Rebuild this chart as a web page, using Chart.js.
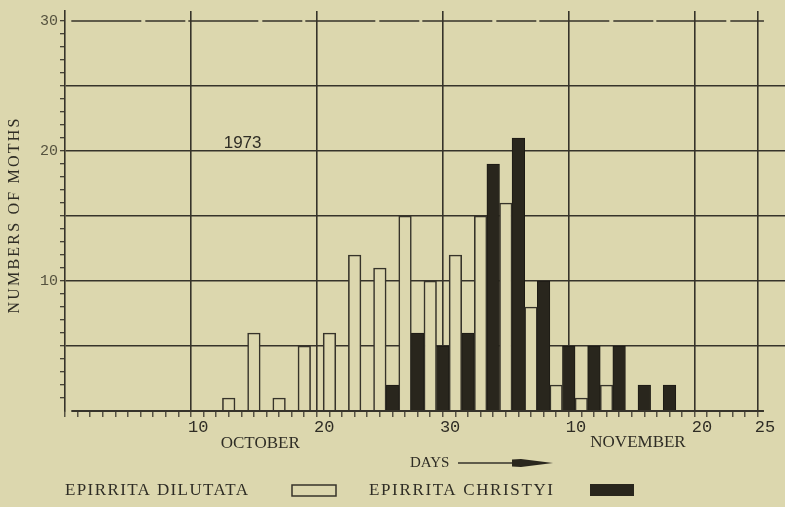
<!DOCTYPE html>
<html>
<head>
<meta charset="utf-8">
<script src="https://cdn.jsdelivr.net/npm/chart.js@4.4.1/dist/chart.umd.min.js"></script>
<style>
  html, body { margin: 0; padding: 0; background: #dcd7ae; }
  #wrap { width: 785px; height: 507px; position: relative; background: #dcd7ae; }
</style>
</head>
<body>
<div id="wrap"><canvas id="c"></canvas></div>
<script>
// ---- data (day index: day 1 = 1 October; each bar covers one day) ----
const dilutataDays   = [12, 14, 16, 18, 20, 22, 24, 26, 28, 30, 32, 34, 36, 38, 40, 42];
const dilutataCounts = [ 1,  6,  1,  5,  6, 12, 11, 15, 10, 12, 15, 16,  8,  2,  1,  2];
const christyiDays   = [25, 27, 29, 31, 33, 35, 37, 39, 41, 43, 45, 47];
const christyiCounts = [ 2,  6,  5,  6, 19, 21, 10,  5,  5,  5,  2,  2];

const xTickValues = [10, 20, 30, 40, 50, 55];
const xTickLabels = ['10', '20', '30', '10', '20', '25'];
const yTickValues = [10, 20, 30];
const yTickLabels = ['10', '20', '30'];
const monthLabels  = ['OCTOBER', 'NOVEMBER'];
const monthCenters = [15, 45];
const seriesNames  = ['EPIRRITA DILUTATA', 'EPIRRITA CHRISTYI'];
const yearLabel = '1973';
const xTitle = 'DAYS';
const yTitle = 'NUMBERS OF MOTHS';

// ---- styles ----
const PAPER = '#dcd7ae';
const INK = '#36332a';
const TEXT = '#2f2d25';
const BLACKBAR = '#29261d';
const X_END = 55;
const Y_TOP = 30;
const WORD_FONT = '"Liberation Serif"';

const toPoints = (days, counts) => days.map((d, i) => ({ x: d + 0.5, y: counts[i] }));

// draw text stretched (via letter spacing) to a target width
function spacedText(ctx, text, x, y, size, width, align) {
  ctx.font = size + 'px ' + WORD_FONT;
  ctx.letterSpacing = '0px';
  const w0 = ctx.measureText(text).width;
  const ls = Math.max(0, (width - w0) / Math.max(1, text.length - 1));
  ctx.letterSpacing = ls.toFixed(2) + 'px';
  const total = w0 + ls * (text.length - 1);
  ctx.textAlign = 'left';
  const x0 = align === 'center' ? x - total / 2 : x;
  ctx.fillText(text, x0, y);
  ctx.letterSpacing = '0px';
}

const annotate = {
  id: 'annotate',
  beforeDatasetsDraw(chart) {
    const { ctx, scales: { x, y } } = chart;
    ctx.save();
    ctx.strokeStyle = INK;
    ctx.lineWidth = 1.4;
    ctx.setLineDash([70, 4, 40, 3]);
    ctx.beginPath();
    ctx.moveTo(x.getPixelForValue(0), y.getPixelForValue(Y_TOP));
    ctx.lineTo(x.getPixelForValue(X_END), y.getPixelForValue(Y_TOP));
    ctx.stroke();
    ctx.restore();
  },
  afterDatasetsDraw(chart) {
    const { ctx, scales: { x, y } } = chart;
    ctx.save();
    ctx.strokeStyle = INK;
    ctx.lineWidth = 1.8;
    ctx.beginPath();
    ctx.moveTo(x.getPixelForValue(0), y.getPixelForValue(0));
    ctx.lineTo(x.getPixelForValue(X_END), y.getPixelForValue(0));
    ctx.stroke();
    ctx.restore();
  },
  afterDraw(chart) {
    const { ctx, scales: { x, y } } = chart;
    ctx.save();
    ctx.fillStyle = TEXT;
    ctx.textBaseline = 'middle';
    ctx.textAlign = 'center';

    // year
    ctx.font = '17px "Liberation Sans"';
    ctx.fillText(yearLabel, x.getPixelForValue(13.6), y.getPixelForValue(20.6));

    // months
    spacedText(ctx, monthLabels[0], x.getPixelForValue(monthCenters[0]), 444, 17, 76, 'center');
    spacedText(ctx, monthLabels[1], x.getPixelForValue(monthCenters[1]), 443, 17, 89, 'center');

    // DAYS arrow
    spacedText(ctx, xTitle, 410, 463, 15, 33, 'left');
    ctx.strokeStyle = INK;
    ctx.lineWidth = 1.5;
    ctx.beginPath();
    ctx.moveTo(458, 463);
    ctx.lineTo(514, 463);
    ctx.stroke();
    ctx.fillStyle = '#2a271e';
    ctx.beginPath();
    ctx.moveTo(512, 459.5);
    ctx.lineTo(521, 459);
    ctx.lineTo(553, 463);
    ctx.lineTo(521, 467);
    ctx.lineTo(512, 466.5);
    ctx.closePath();
    ctx.fill();

    // y title
    ctx.fillStyle = TEXT;
    ctx.save();
    ctx.translate(15, 216);
    ctx.rotate(-Math.PI / 2);
    spacedText(ctx, yTitle, 0, 0, 16, 195, 'center');
    ctx.restore();

    // legend
    const ds = chart.data.datasets;
    ctx.fillStyle = TEXT;
    spacedText(ctx, ds[0].label, 65, 491, 17, 183, 'left');
    spacedText(ctx, ds[1].label, 369, 491, 17, 184, 'left');
    ctx.strokeStyle = ds[0].borderColor;
    ctx.lineWidth = 1.5;
    ctx.fillStyle = ds[0].backgroundColor;
    ctx.fillRect(292, 485, 44, 11);
    ctx.strokeRect(292, 485, 44, 11);
    ctx.fillStyle = ds[1].backgroundColor;
    ctx.fillRect(590, 484, 44, 12);
    ctx.restore();
  }
};

new Chart(document.getElementById('c'), {
  type: 'bar',
  data: {
    datasets: [
      {
        label: seriesNames[0],
        data: toPoints(dilutataDays, dilutataCounts),
        backgroundColor: PAPER,
        borderColor: INK,
        borderWidth: 1.6,
        borderSkipped: 'start'
      },
      {
        label: seriesNames[1],
        data: toPoints(christyiDays, christyiCounts),
        backgroundColor: BLACKBAR,
        borderColor: '#1c1a14',
        borderWidth: 1,
        borderSkipped: 'start'
      }
    ]
  },
  options: {
    responsive: true,
    maintainAspectRatio: false,
    animation: false,
    devicePixelRatio: 1,
    grouped: false,
    barPercentage: 1,
    categoryPercentage: 1,
    layout: { padding: { top: 10, right: 0, left: 0, bottom: 0 } },
    plugins: { legend: { display: false }, tooltip: { enabled: false } },
    scales: {
      x: {
        type: 'linear',
        min: 0,
        max: 56.17,
        afterFit: s => { s.height = 96; },
        border: { display: false },
        grid: {
          color: c => (c.tick && c.tick.value > 0 && (c.tick.value % 10 === 0 || c.tick.value === X_END) && c.tick.value <= X_END) ? INK : 'transparent',
          lineWidth: 1.6,
          tickColor: c => (c.tick && Number.isInteger(c.tick.value) && c.tick.value <= X_END) ? INK : 'transparent',
          tickLength: 6,
          tickWidth: 1.2
        },
        ticks: {
          stepSize: 1,
          includeBounds: false,
          autoSkip: false,
          maxRotation: 0,
          padding: 0,
          labelOffset: 1,
          color: TEXT,
          font: { family: 'Liberation Mono', size: 17 },
          callback: v => { const i = xTickValues.indexOf(v); return i >= 0 ? xTickLabels[i] : ''; }
        }
      },
      y: {
        type: 'linear',
        min: 0,
        max: 30.77,
        afterFit: s => { s.width = 65; },
        border: { display: true, color: INK, width: 1.6 },
        grid: {
          color: c => (c.tick && c.tick.value > 0 && c.tick.value < Y_TOP && c.tick.value % 5 === 0) ? INK : 'transparent',
          lineWidth: 1.4,
          tickColor: c => (c.tick && Number.isInteger(c.tick.value) && c.tick.value > 0 && c.tick.value <= Y_TOP) ? INK : 'transparent',
          tickLength: 5,
          tickWidth: 1.2
        },
        ticks: {
          stepSize: 1,
          includeBounds: false,
          autoSkip: false,
          padding: 2,
          color: '#55523f',
          font: { family: 'Liberation Mono', size: 15 },
          callback: v => { const i = yTickValues.indexOf(v); return i >= 0 ? yTickLabels[i] : ''; }
        }
      }
    }
  },
  plugins: [annotate]
});
</script>
</body>
</html>
